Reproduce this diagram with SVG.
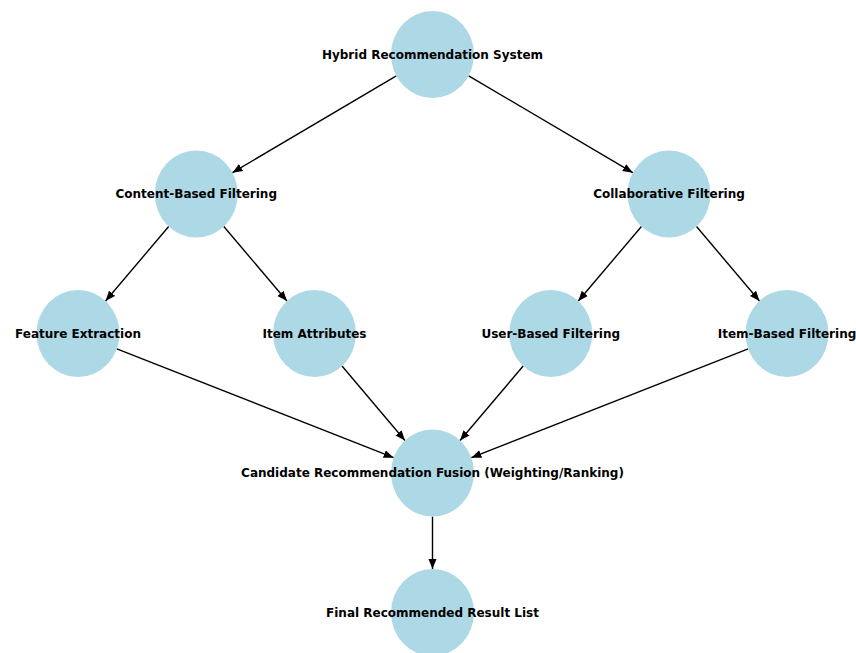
<svg xmlns="http://www.w3.org/2000/svg" width="856" height="653" viewBox="0 0 856 653">
<defs>
<marker id="arr" markerUnits="userSpaceOnUse" markerWidth="12" markerHeight="10" refX="10" refY="4" orient="auto">
<path d="M0,0 L10,4 L0,8 z" fill="#000"/>
</marker>
<style>
.n ellipse{fill:#add8e6;}
.n text{font-family:"DejaVu Sans","Liberation Sans",sans-serif;font-weight:bold;font-size:12px;fill:#000;text-anchor:middle;dominant-baseline:central;}
#edges line{stroke:#000;stroke-width:1.4;marker-end:url(#arr);}
</style>
</defs>
<rect width="856" height="653" fill="#fff"/>
<g id="edges">
<line x1="396.34" y1="75.85" x2="232.41" y2="172.65"/>
<line x1="468.68" y1="75.84" x2="632.82" y2="172.66"/>
<line x1="168.69" y1="226.52" x2="105.56" y2="300.98"/>
<line x1="223.81" y1="226.52" x2="286.94" y2="300.98"/>
<line x1="641.44" y1="226.52" x2="578.31" y2="300.98"/>
<line x1="696.52" y1="226.53" x2="759.48" y2="300.97"/>
<line x1="116.85" y1="348.79" x2="393.65" y2="457.71"/>
<line x1="342.02" y1="366.03" x2="404.98" y2="440.47"/>
<line x1="523.19" y1="366.02" x2="460.06" y2="440.48"/>
<line x1="748.15" y1="348.79" x2="471.35" y2="457.71"/>
<line x1="432.5" y1="516.5" x2="432.5" y2="569"/>
</g>
<g id="hybrid" class="n"><ellipse cx="432.5" cy="54.5" rx="41.5" ry="43.5"/><text x="432.5" y="54.5">Hybrid Recommendation System</text></g>
<g id="content" class="n"><ellipse cx="196.25" cy="194" rx="41.5" ry="43.5"/><text x="196.25" y="194">Content-Based Filtering</text></g>
<g id="collab" class="n"><ellipse cx="669" cy="194" rx="41.5" ry="43.5"/><text x="669" y="194">Collaborative Filtering</text></g>
<g id="feature" class="n"><ellipse cx="78" cy="333.5" rx="41.5" ry="43.5"/><text x="78" y="333.5">Feature Extraction</text></g>
<g id="itemattr" class="n"><ellipse cx="314.5" cy="333.5" rx="41.5" ry="43.5"/><text x="314.5" y="333.5">Item Attributes</text></g>
<g id="userbased" class="n"><ellipse cx="550.75" cy="333.5" rx="41.5" ry="43.5"/><text x="550.75" y="333.5">User-Based Filtering</text></g>
<g id="itembased" class="n"><ellipse cx="787" cy="333.5" rx="41.5" ry="43.5"/><text x="787" y="333.5">Item-Based Filtering</text></g>
<g id="candidate" class="n"><ellipse cx="432.5" cy="473" rx="41.5" ry="43.5"/><text x="432.5" y="473">Candidate Recommendation Fusion (Weighting/Ranking)</text></g>
<g id="final" class="n"><ellipse cx="432.5" cy="612.5" rx="41.5" ry="43.5"/><text x="432.5" y="612.5">Final Recommended Result List</text></g>
</svg>
